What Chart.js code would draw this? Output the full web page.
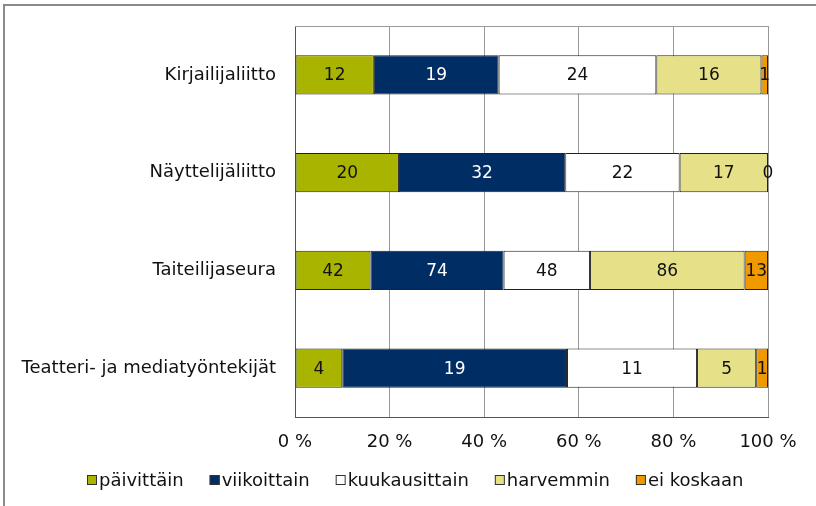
<!DOCTYPE html>
<html>
<head>
<meta charset="utf-8">
<script src="https://cdn.jsdelivr.net/npm/chart.js@4/dist/chart.umd.min.js"></script>
<style>
  html, body { margin: 0; padding: 0; background: #fff; }
  #wrap { position: relative; width: 816px; height: 506px; overflow: hidden; }
  #frame { position: absolute; left: 3px; top: 4px; width: 840px; height: 540px; border: 2px solid #8a8a8a; box-sizing: border-box; }
  canvas { position: absolute; left: 0; top: 0; }
</style>
</head>
<body>
<div id="wrap">
  <div id="frame"></div>
  <canvas id="c" width="816" height="506"></canvas>
</div>
<script>
const categories = ['Kirjailijaliitto', 'Näyttelijäliitto', 'Taiteilijaseura', 'Teatteri- ja mediatyöntekijät'];
const seriesNames = ['päivittäin', 'viikoittain', 'kuukausittain', 'harvemmin', 'ei koskaan'];
const paivittain = [12, 20, 42, 4];
const viikoittain = [19, 32, 74, 19];
const kuukausittain = [24, 22, 48, 11];
const harvemmin = [16, 17, 86, 5];
const eiKoskaan = [1, 0, 13, 1];
const tickLabels = ['0 %', '20 %', '40 %', '60 %', '80 %', '100 %'];

const seriesCounts = [paivittain, viikoittain, kuukausittain, harvemmin, eiKoskaan];
const colors = ['#a8b400', '#002d63', '#ffffff', '#e6e189', '#f09a00'];
const labelColors = ['#111', '#fff', '#111', '#111', '#111'];

const totals = categories.map((_, i) => seriesCounts.reduce((s, arr) => s + arr[i], 0));
const datasets = seriesCounts.map((arr, k) => ({
  label: seriesNames[k],
  data: arr.map((v, i) => v / totals[i] * 100),
  counts: arr,
  backgroundColor: colors[k],
  borderColor: '#222',
  borderWidth: 1,
  borderSkipped: false,
  barPercentage: 0.4,
  categoryPercentage: 1.0
}));

const FONT = 'DejaVu Sans';

const labelPlugin = {
  id: 'valueLabels',
  afterDatasetsDraw(chart) {
    const ctx = chart.ctx;
    ctx.save();
    ctx.font = '17px "' + FONT + '"';
    ctx.textAlign = 'center';
    ctx.textBaseline = 'middle';
    chart.data.datasets.forEach((ds, k) => {
      const meta = chart.getDatasetMeta(k);
      meta.data.forEach((el, i) => {
        const cx = (el.x + el.base) / 2;
        ctx.fillStyle = labelColors[k];
        ctx.fillText(String(ds.counts[i]), cx, el.y + 1);
      });
    });
    ctx.restore();
  }
};

const framePlugin = {
  id: 'plotFrame',
  beforeDatasetsDraw(chart) {
    const a = chart.chartArea;
    const ctx = chart.ctx;
    ctx.save();
    ctx.strokeStyle = '#999';
    ctx.lineWidth = 1;
    ctx.beginPath();
    ctx.moveTo(a.left, Math.round(a.top) + 0.5);
    ctx.lineTo(a.right, Math.round(a.top) + 0.5);
    ctx.stroke();
    ctx.restore();
  }
};

const legendPlugin = {
  id: 'bottomLegend',
  afterDraw(chart) {
    const ctx = chart.ctx;
    ctx.save();
    ctx.font = '18px "' + FONT + '"';
    ctx.textBaseline = 'middle';
    ctx.textAlign = 'left';
    const box = 10, gapText = 2, gapItem = 26, cy = 480;
    const widths = seriesNames.map(n => ctx.measureText(n).width);
    const total = widths.reduce((s, w) => s + box + gapText + w, 0) + gapItem * (seriesNames.length - 1);
    let x = Math.round(415 - total / 2);
    seriesNames.forEach((n, k) => {
      ctx.fillStyle = colors[k];
      ctx.fillRect(x, cy - 5, box, box);
      ctx.strokeStyle = '#333';
      ctx.lineWidth = 1;
      ctx.strokeRect(x + 0.5, cy - 5 + 0.5, box - 1, box - 1);
      ctx.fillStyle = '#111';
      ctx.fillText(n, x + box + gapText, cy + 1);
      x += box + gapText + widths[k] + gapItem;
    });
    ctx.restore();
  }
};

new Chart(document.getElementById('c'), {
  type: 'bar',
  data: { labels: categories, datasets },
  plugins: [labelPlugin, framePlugin, legendPlugin],
  options: {
    indexAxis: 'y',
    responsive: false,
    animation: false,
    layout: { padding: { top: 26, right: 48, left: 0, bottom: 54 } },
    scales: {
      x: {
        stacked: true,
        min: 0,
        max: 100,
        afterFit(scale) { scale.height = 35; scale.paddingLeft = 0; scale.paddingRight = 0; },
        afterBuildTicks(scale) { scale.ticks = tickLabels.map((_, i) => ({ value: i * 20 })); },
        ticks: {
          callback: (v, i) => tickLabels[i],
          font: { family: FONT, size: 18 },
          color: '#111',
          padding: 15,
          maxRotation: 0
        },
        grid: { color: '#999', drawTicks: false },
        border: { color: '#555' }
      },
      y: {
        stacked: true,
        afterFit(scale) { scale.width = 295; scale.paddingTop = 0; scale.paddingBottom = 0; },
        ticks: {
          font: { family: FONT, size: 18 },
          color: '#111',
          padding: 19
        },
        grid: { display: false, drawTicks: false },
        border: { color: '#555' }
      }
    },
    plugins: {
      legend: { display: false },
      tooltip: { enabled: false }
    }
  }
});
</script>
</body>
</html>
